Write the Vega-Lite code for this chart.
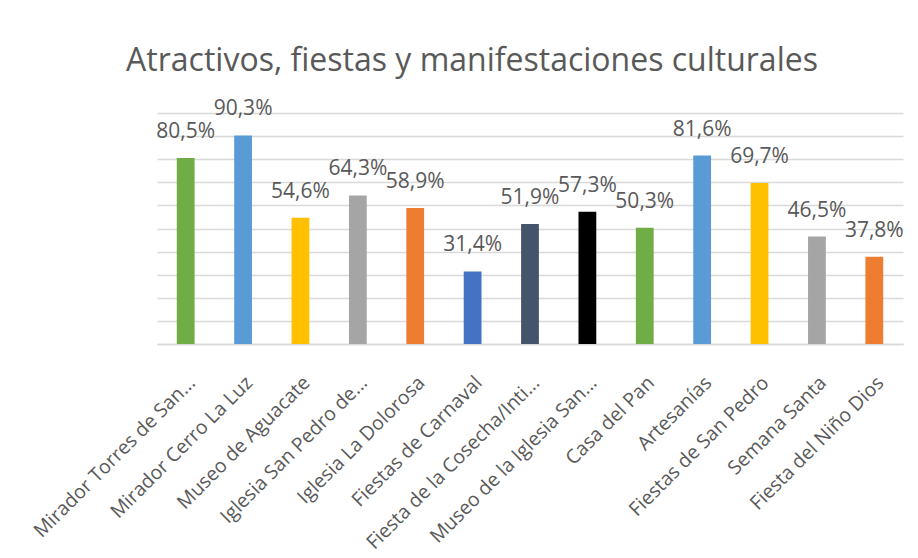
{
  "$schema": "https://vega.github.io/schema/vega-lite/v6.json",
  "autosize": "none",
  "width": 746,
  "height": 231,
  "padding": {"left": 157, "top": 113, "right": 15, "bottom": 214},
  "background": "white",
  "title": {
    "text": "Atractivos, fiestas y manifestaciones culturales",
    "font": "Open Sans",
    "fontSize": 32,
    "fontWeight": "normal",
    "color": "#595959",
    "anchor": "middle",
    "frame": "group",
    "baseline": "alphabetic",
    "dx": -58,
    "offset": -5
  },
  "data": {
    "values": [
      {"name": "Mirador Torres de San...", "value": 0.805},
      {"name": "Mirador Cerro La Luz", "value": 0.903},
      {"name": "Museo de Aguacate", "value": 0.546},
      {"name": "Iglesia San Pedro de...", "value": 0.643},
      {"name": "Iglesia La Dolorosa", "value": 0.589},
      {"name": "Fiestas de Carnaval", "value": 0.314},
      {"name": "Fiesta de la Cosecha/Inti...", "value": 0.519},
      {"name": "Museo de la Iglesia San...", "value": 0.573},
      {"name": "Casa del Pan", "value": 0.503},
      {"name": "Artesanías", "value": 0.816},
      {"name": "Fiestas de San Pedro", "value": 0.697},
      {"name": "Semana Santa", "value": 0.465},
      {"name": "Fiesta del Niño Dios", "value": 0.378}
    ]
  },
  "encoding": {
    "x": {
      "field": "name",
      "type": "nominal",
      "sort": null,
      "scale": {"paddingInner": 0.69, "paddingOuter": 0.345},
      "axis": {
        "title": null,
        "labelAngle": -45,
        "labelFont": "Open Sans",
        "labelFontSize": 19.5,
        "labelColor": "#595959",
        "labelPadding": 29,
        "labelLimit": 400,
        "ticks": false,
        "domainColor": "#d9d9d9",
        "domainWidth": 1.5
      }
    },
    "y": {
      "field": "value",
      "type": "quantitative",
      "scale": {"domain": [0, 1], "nice": false},
      "axis": {
        "title": null,
        "labels": false,
        "ticks": false,
        "domain": false,
        "grid": true,
        "gridColor": "#d9d9d9",
        "gridWidth": 1.5,
        "values": [0, 0.1, 0.2, 0.3, 0.4, 0.5, 0.6, 0.7, 0.8, 0.9, 1]
      }
    }
  },
  "layer": [
    {
      "mark": {"type": "bar"},
      "encoding": {
        "color": {
          "field": "name",
          "type": "nominal",
          "legend": null,
          "scale": {
            "domain": [
              "Mirador Torres de San...",
              "Mirador Cerro La Luz",
              "Museo de Aguacate",
              "Iglesia San Pedro de...",
              "Iglesia La Dolorosa",
              "Fiestas de Carnaval",
              "Fiesta de la Cosecha/Inti...",
              "Museo de la Iglesia San...",
              "Casa del Pan",
              "Artesanías",
              "Fiestas de San Pedro",
              "Semana Santa",
              "Fiesta del Niño Dios"
            ],
            "range": [
              "#70AD47", "#5B9BD5", "#FFC000", "#A5A5A5", "#ED7D31",
              "#4472C4", "#44546A", "#000000", "#70AD47", "#5B9BD5",
              "#FFC000", "#A5A5A5", "#ED7D31"
            ]
          }
        }
      }
    },
    {
      "mark": {
        "type": "text",
        "font": "Open Sans",
        "fontSize": 21,
        "color": "#595959",
        "baseline": "alphabetic",
        "dy": -20
      },
      "encoding": {
        "text": {"field": "value", "type": "quantitative", "format": ".1%"}
      }
    }
  ],
  "config": {
    "view": {"stroke": null},
    "locale": {
      "number": {
        "decimal": ",",
        "thousands": ".",
        "grouping": [3],
        "currency": ["", " €"]
      }
    }
  }
}
